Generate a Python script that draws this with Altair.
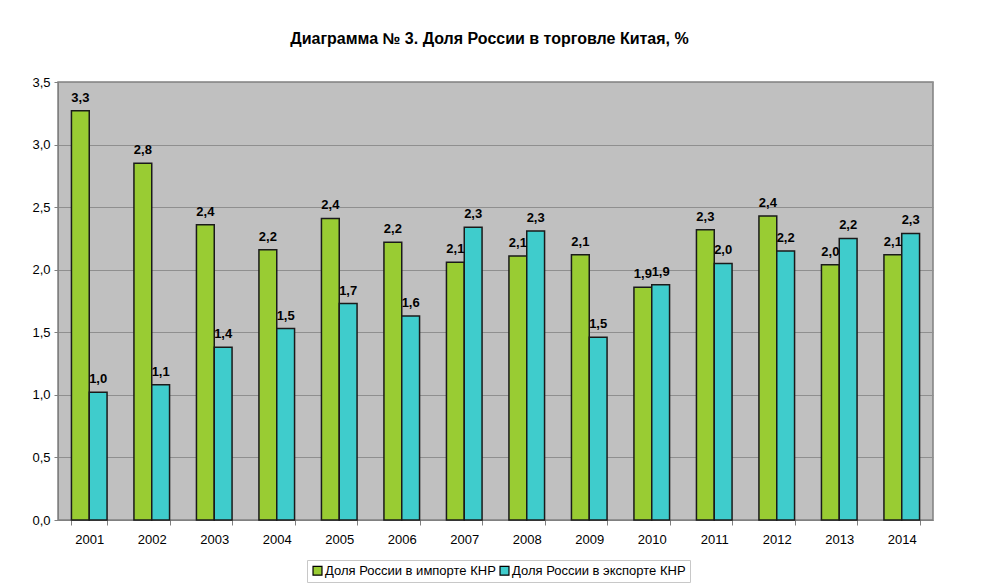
import altair as alt
import pandas as pd

years = ["2001", "2002", "2003", "2004", "2005", "2006", "2007",
         "2008", "2009", "2010", "2011", "2012", "2013", "2014"]
import_share = [3.27, 2.85, 2.36, 2.16, 2.41, 2.22, 2.06, 2.11, 2.12, 1.86, 2.32, 2.43, 2.04, 2.12]
export_share = [1.02, 1.08, 1.38, 1.53, 1.73, 1.63, 2.34, 2.31, 1.46, 1.88, 2.05, 2.15, 2.25, 2.29]
import_labels = ["3,3", "2,8", "2,4", "2,2", "2,4", "2,2", "2,1", "2,1", "2,1", "1,9", "2,3", "2,4", "2,0", "2,1"]
export_labels = ["1,0", "1,1", "1,4", "1,5", "1,7", "1,6", "2,3", "2,3", "1,5", "1,9", "2,0", "2,2", "2,2", "2,3"]
series_names = ["Доля России в импорте КНР", "Доля России в экспорте КНР"]
colors = ["#99CC33", "#3FCCCC"]

rows = []
for i, y in enumerate(years):
    rows.append({"year": y, "series": series_names[0], "value": import_share[i], "label": import_labels[i]})
    rows.append({"year": y, "series": series_names[1], "value": export_share[i], "label": export_labels[i]})
df = pd.DataFrame(rows)

FONT = "Liberation Sans"

x = alt.X("year:N", title=None, sort=years,
          scale=alt.Scale(paddingInner=0.43, paddingOuter=0.215),
          axis=alt.Axis(labelAngle=0, labelFontSize=13, labelColor="#000", labelFont=FONT,
                        tickBand="extent", tickColor="#808080", tickSize=5,
                        domainColor="#808080", labelPadding=8))
xoff = alt.XOffset("series:N", sort=series_names, scale=alt.Scale(paddingInner=0, paddingOuter=0))
y = alt.Y("value:Q", title=None,
          scale=alt.Scale(domain=[0, 3.5], nice=False),
          axis=alt.Axis(values=[0, 0.5, 1, 1.5, 2, 2.5, 3, 3.5],
                        labelExpr="replace(format(datum.value, '.1f'), '.', ',')",
                        labelFontSize=13, labelColor="#000", labelFont=FONT,
                        gridColor="#8f8f8f", gridWidth=1, tickColor="#808080", tickSize=4,
                        domainColor="#808080", labelPadding=4))

bars = alt.Chart(df).mark_bar(stroke="#1a1a1a", strokeWidth=1.5).encode(
    x=x, xOffset=xoff, y=y,
    color=alt.Color("series:N", sort=series_names,
                    scale=alt.Scale(domain=series_names, range=colors),
                    legend=alt.Legend(title=None, orient="none", direction="horizontal",
                                      legendX=249, legendY=478,
                                      symbolType="square", symbolSize=80,
                                      symbolStrokeColor="#000", symbolStrokeWidth=1.2,
                                      labelFontSize=13, labelFont=FONT, labelColor="#000",
                                      labelLimit=0,
                                      columnPadding=1, symbolOffset=0,
                                      fillColor="#ffffff", strokeColor="#c8c8c8",
                                      padding=4, labelOffset=1))
)

texts = alt.Chart(df).mark_text(baseline="bottom", dy=-6, fontWeight="bold",
                                fontSize=13, font=FONT, color="#000").encode(
    x=x, xOffset=xoff, y=y, text="label:N"
)

chart = alt.layer(bars, texts).properties(
    width=875, height=438,
    title=alt.TitleParams("Диаграмма № 3. Доля России в торговле Китая, %",
                          font=FONT, fontSize=16, fontWeight="bold", color="#000",
                          anchor="middle", offset=29, dx=-6),
    autosize=alt.AutoSizeParams(type="none"),
    padding={"left": 50, "top": 74, "right": 40, "bottom": 64},
).configure_view(fill="#C0C0C0", stroke="#808080", strokeWidth=1.5)

chart.save("out.html", embed_options={"renderer": "svg", "actions": False})
